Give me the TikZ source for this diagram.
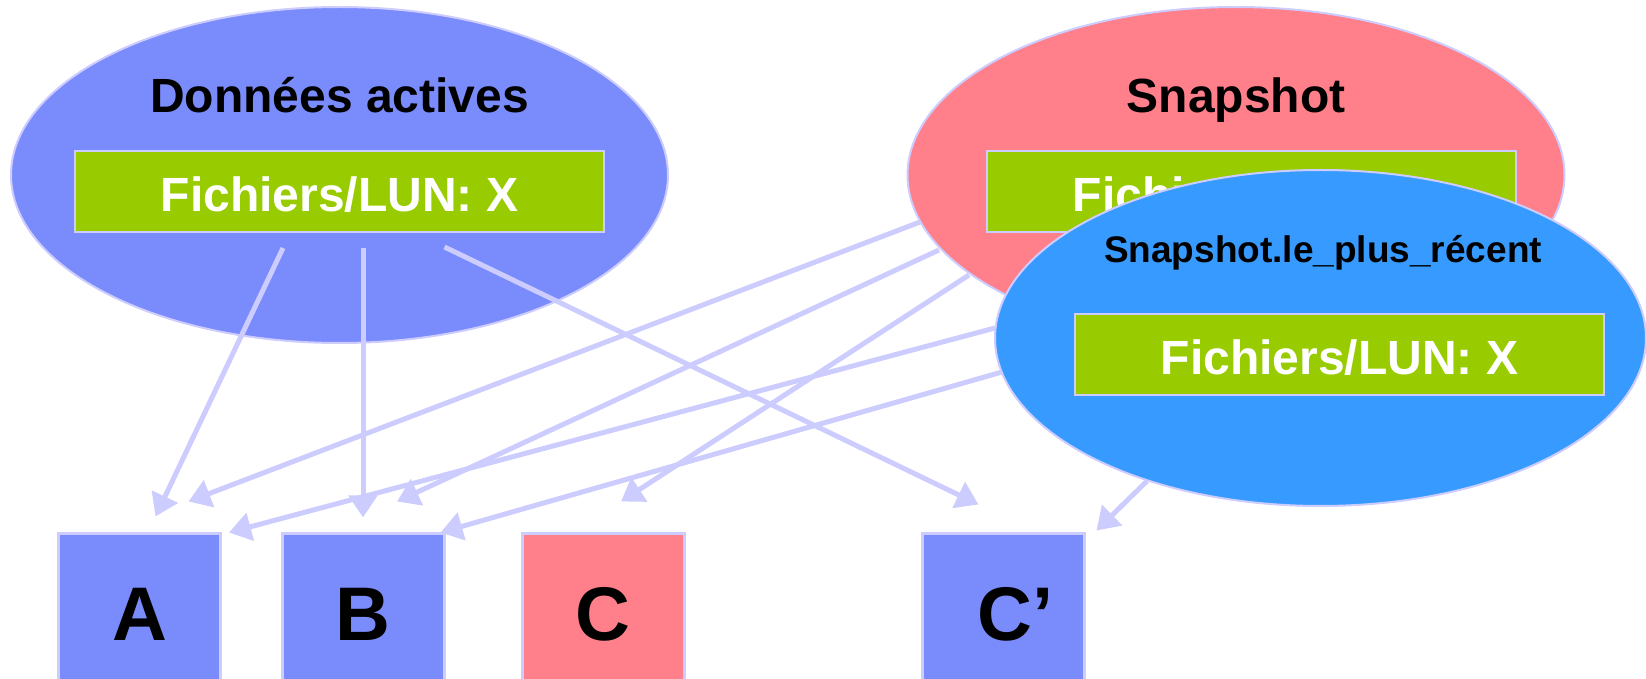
\documentclass[tikz,border=0pt]{standalone}
\usepackage{fontspec}
\setmainfont{Liberation Sans}
\usetikzlibrary{arrows.meta,shapes.geometric,calc}
\definecolor{lav}{RGB}{204,204,255}
\definecolor{dblue}{RGB}{122,139,251}
\definecolor{pinkred}{RGB}{255,127,138}
\definecolor{sky}{RGB}{54,154,255}
\definecolor{lgreen}{RGB}{153,204,0}
\begin{document}
\begin{tikzpicture}[x=0.5pt,y=-0.5pt,
  ell/.style={ellipse,draw=lav,line width=1pt,minimum width=328.5pt,minimum height=168pt,inner sep=0pt},
  grn/.style={rectangle,draw=lav,line width=1pt,fill=lgreen,minimum width=264.5pt,minimum height=40.5pt,inner sep=0pt,text=white,text height=20.5pt,text depth=0pt,font=\bfseries\fontsize{24}{28}\selectfont},
  ttl/.style={anchor=base,inner sep=0pt,font=\bfseries\fontsize{24}{28}\selectfont},
  boxnode/.style={rectangle,draw=lav,line width=1.5pt,minimum width=81pt,minimum height=80pt,inner sep=0pt,font=\bfseries\fontsize{38}{44}\selectfont},
  arr/.style={draw=lav,line width=2.5pt,-{Triangle[length=11pt,width=14pt]}}]
\clip (0,0) rectangle (1646,679);
% Donnees actives
\node[ell,fill=dblue] (da) at (339.5,175) {};
\node[ttl] (daT) at (339.5,113) {Données actives};
\node[grn] (daF) at (339.5,191.5) {Fichiers/LUN: X};
% Snapshot
\node[ell,fill=pinkred] (sn) at (1236,175) {};
\node[ttl] (snT) at (1236,113) {Snapshot};
\node[grn] (snF) at (1251.5,191.5) {Fichiers/LUN: X};
% boxes
\node[boxnode,fill=dblue] (A) at (139.5,614) {A};
\node[boxnode,fill=dblue] (B) at (363,614) {B};
\node[boxnode,fill=pinkred] (C) at (603,614) {C};
\node[boxnode,fill=dblue] (Cp) at (1003.5,614) {\hspace*{12pt}C’};
% arrow end points
\coordinate (s1) at (283,248);
\coordinate (s2) at (363,248);
\coordinate (s3) at (444.5,247);
\coordinate (s4) at (920,222);
\coordinate (s5) at (939,250);
\coordinate (s6) at (969,275);
\coordinate (s7) at (995,328);
\coordinate (s8) at (1002,372);
\coordinate (s9) at (1147,481);
\coordinate (tA1) at ($(A.north)+(16,-16)$);
\coordinate (tA2) at ($(A.north)+(49,-31)$);
\coordinate (tA3) at ($(A.north east)+(7,0)$);
\coordinate (tB1) at ($(B.north)+(0,-15)$);
\coordinate (tB2) at ($(B.north)+(34,-31)$);
\coordinate (tB3) at ($(B.north east)+(-5,0)$);
\coordinate (tC1) at ($(C.north)+(18,-31)$);
\coordinate (tCp1) at ($(Cp.north)+(-25,-28)$);
\coordinate (tCp2) at ($(Cp.north)+(93,-2)$);
% arrows
\draw[arr] (s1) -- (tA1);
\draw[arr] (s2) -- (tB1);
\draw[arr] (s3) -- (tCp1);
\draw[arr] (s4) -- (tA2);
\draw[arr] (s5) -- (tB2);
\draw[arr] (s6) -- (tC1);
\draw[arr] (s7) -- (tA3);
\draw[arr] (s8) -- (tB3);
\draw[arr] (s9) -- (tCp2);
% Snapshot le plus recent
\node[ell,fill=sky,minimum width=325.5pt] (rc) at (1320.5,338) {};
\node[ttl,font=\bfseries\fontsize{18.5}{22}\selectfont] (rcT) at (1323,263) {Snapshot.le\_plus\_récent};
\node[grn] (rcF) at (1339.5,354.5) {Fichiers/LUN: X};
\end{tikzpicture}
\end{document}
